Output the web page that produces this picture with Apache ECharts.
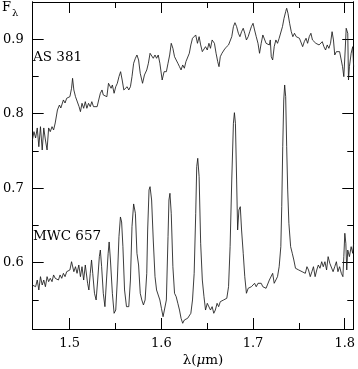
<!DOCTYPE html>
<html>
<head>
<meta charset="utf-8">
<script src="https://cdn.jsdelivr.net/npm/echarts@6/dist/echarts.min.js"></script>
<style>
  html, body { margin: 0; padding: 0; background: #fff; }
  #chart { width: 358px; height: 369px; }
</style>
</head>
<body>
<div id="chart"></div>
<script>
// spectra: wavelength in micron, flux F_lambda
let asWave = [1.4594, 1.4611, 1.4629, 1.4647, 1.4664, 1.4682, 1.4701, 1.4718, 1.4736, 1.4754, 1.4771, 1.4789, 1.4808, 1.4825, 1.4843, 1.4867, 1.4889, 1.4904, 1.4932, 1.4950, 1.4968, 1.4985, 1.5003, 1.5021, 1.5032, 1.5046, 1.5064, 1.5081, 1.5103, 1.5118, 1.5135, 1.5153, 1.5171, 1.5188, 1.5206, 1.5225, 1.5242, 1.5260, 1.5278, 1.5300, 1.5317, 1.5335, 1.5353, 1.5367, 1.5388, 1.5406, 1.5424, 1.5439, 1.5452, 1.5466, 1.5485, 1.5503, 1.5520, 1.5538, 1.5556, 1.5573, 1.5591, 1.5610, 1.5627, 1.5645, 1.5663, 1.5680, 1.5698, 1.5717, 1.5734, 1.5752, 1.5770, 1.5795, 1.5816, 1.5841, 1.5859, 1.5877, 1.5894, 1.5912, 1.5931, 1.5948, 1.5966, 1.5984, 1.6009, 1.6030, 1.6055, 1.6073, 1.6091, 1.6108, 1.6126, 1.6144, 1.6162, 1.6180, 1.6198, 1.6215, 1.6233, 1.6251, 1.6268, 1.6287, 1.6305, 1.6322, 1.6340, 1.6358, 1.6375, 1.6394, 1.6412, 1.6429, 1.6447, 1.6465, 1.6482, 1.6501, 1.6519, 1.6536, 1.6554, 1.6565, 1.6579, 1.6597, 1.6615, 1.6629, 1.6643, 1.6661, 1.6679, 1.6696, 1.6714, 1.6733, 1.6750, 1.6768, 1.6786, 1.6803, 1.6821, 1.6840, 1.6857, 1.6875, 1.6893, 1.6910, 1.6928, 1.6947, 1.6964, 1.6982, 1.7000, 1.7017, 1.7035, 1.7054, 1.7071, 1.7089, 1.7107, 1.7124, 1.7142, 1.7160, 1.7178, 1.7188, 1.7199, 1.7214, 1.7231, 1.7249, 1.7267, 1.7285, 1.7303, 1.7321, 1.7338, 1.7356, 1.7367, 1.7381, 1.7399, 1.7417, 1.7434, 1.7452, 1.7471, 1.7488, 1.7506, 1.7524, 1.7541, 1.7559, 1.7578, 1.7595, 1.7613, 1.7631, 1.7648, 1.7666, 1.7685, 1.7702, 1.7720, 1.7738, 1.7755, 1.7773, 1.7791, 1.7809, 1.7827, 1.7845, 1.7862, 1.7877, 1.7891, 1.7909, 1.7926, 1.7944, 1.7963, 1.7976, 1.7990, 1.8005, 1.8016, 1.8027, 1.8033, 1.8041, 1.8051, 1.8070, 1.8087, 1.8097];
let asFlux = [0.7647, 0.7759, 0.7674, 0.7809, 0.7557, 0.7826, 0.7513, 0.7809, 0.7647, 0.7513, 0.7809, 0.7759, 0.7826, 0.7782, 0.7876, 0.8050, 0.8117, 0.8077, 0.8185, 0.8144, 0.8208, 0.8185, 0.8229, 0.8342, 0.8476, 0.8319, 0.8229, 0.8229, 0.8095, 0.8028, 0.8140, 0.8073, 0.8162, 0.8073, 0.8140, 0.8095, 0.8162, 0.8095, 0.8117, 0.8095, 0.8185, 0.8275, 0.8319, 0.8252, 0.8275, 0.8229, 0.8409, 0.8431, 0.8342, 0.8386, 0.8275, 0.8363, 0.8409, 0.8498, 0.8565, 0.8453, 0.8319, 0.8296, 0.8363, 0.8319, 0.8363, 0.8498, 0.8678, 0.8745, 0.8789, 0.8722, 0.8543, 0.8409, 0.8521, 0.8588, 0.8678, 0.8812, 0.8834, 0.8745, 0.8789, 0.8745, 0.8789, 0.8678, 0.8453, 0.8565, 0.8565, 0.8678, 0.8789, 0.8946, 0.8879, 0.8766, 0.8722, 0.8678, 0.8632, 0.8588, 0.8655, 0.8611, 0.8699, 0.8722, 0.8812, 0.8924, 0.9014, 0.9035, 0.9058, 0.8946, 0.9035, 0.8924, 0.8834, 0.8812, 0.8901, 0.8856, 0.8946, 0.8879, 0.8991, 0.9014, 0.8946, 0.8812, 0.8699, 0.8632, 0.8766, 0.8812, 0.8789, 0.8879, 0.8856, 0.8924, 0.8901, 0.9035, 0.9170, 0.9223, 0.9170, 0.9081, 0.9035, 0.9102, 0.9148, 0.9081, 0.8991, 0.9035, 0.9102, 0.9170, 0.9215, 0.9125, 0.9035, 0.8946, 0.8812, 0.8946, 0.9058, 0.9081, 0.8946, 0.8968, 0.8924, 0.8991, 0.8766, 0.8722, 0.8901, 0.8991, 0.8946, 0.9014, 0.8991, 0.9170, 0.9282, 0.9371, 0.9417, 0.9349, 0.9215, 0.9102, 0.9035, 0.9081, 0.9035, 0.9058, 0.9014, 0.8991, 0.8901, 0.8968, 0.9014, 0.8946, 0.9035, 0.9081, 0.8991, 0.9014, 0.8946, 0.8968, 0.8924, 0.8946, 0.8968, 0.8901, 0.8856, 0.8924, 0.8879, 0.8946, 0.9102, 0.8991, 0.8789, 0.8834, 0.8812, 0.8834, 0.8812, 0.8632, 0.8498, 0.8856, 0.9148, 0.9170, 0.9081, 0.8453, 0.8632, 0.8812, 0.8901, 0.8632];

let mwcWave = [1.4594, 1.4611, 1.4629, 1.4647, 1.4664, 1.4682, 1.4701, 1.4718, 1.4736, 1.4754, 1.4771, 1.4789, 1.4808, 1.4825, 1.4843, 1.4861, 1.4878, 1.4896, 1.4914, 1.4932, 1.4950, 1.4968, 1.4985, 1.5003, 1.5021, 1.5032, 1.5046, 1.5064, 1.5081, 1.5100, 1.5118, 1.5135, 1.5153, 1.5171, 1.5182, 1.5196, 1.5210, 1.5225, 1.5239, 1.5252, 1.5271, 1.5289, 1.5306, 1.5324, 1.5335, 1.5349, 1.5367, 1.5385, 1.5402, 1.5420, 1.5431, 1.5445, 1.5466, 1.5485, 1.5503, 1.5520, 1.5538, 1.5554, 1.5567, 1.5581, 1.5599, 1.5620, 1.5645, 1.5663, 1.5680, 1.5698, 1.5717, 1.5734, 1.5752, 1.5770, 1.5787, 1.5805, 1.5823, 1.5841, 1.5851, 1.5866, 1.5877, 1.5894, 1.5912, 1.5931, 1.5948, 1.5966, 1.5984, 1.6001, 1.6019, 1.6037, 1.6055, 1.6073, 1.6083, 1.6094, 1.6108, 1.6126, 1.6144, 1.6162, 1.6180, 1.6198, 1.6215, 1.6233, 1.6251, 1.6268, 1.6287, 1.6305, 1.6322, 1.6340, 1.6358, 1.6375, 1.6386, 1.6397, 1.6412, 1.6429, 1.6447, 1.6465, 1.6482, 1.6501, 1.6519, 1.6536, 1.6554, 1.6572, 1.6589, 1.6608, 1.6625, 1.6643, 1.6661, 1.6679, 1.6696, 1.6714, 1.6733, 1.6750, 1.6768, 1.6786, 1.6797, 1.6808, 1.6821, 1.6832, 1.6846, 1.6861, 1.6875, 1.6893, 1.6910, 1.6928, 1.6947, 1.6964, 1.6982, 1.7000, 1.7017, 1.7035, 1.7054, 1.7071, 1.7089, 1.7107, 1.7124, 1.7142, 1.7160, 1.7178, 1.7196, 1.7214, 1.7231, 1.7249, 1.7267, 1.7285, 1.7303, 1.7313, 1.7324, 1.7335, 1.7345, 1.7356, 1.7367, 1.7378, 1.7391, 1.7410, 1.7428, 1.7445, 1.7463, 1.7481, 1.7498, 1.7517, 1.7535, 1.7552, 1.7570, 1.7588, 1.7605, 1.7624, 1.7642, 1.7659, 1.7677, 1.7695, 1.7712, 1.7730, 1.7749, 1.7766, 1.7784, 1.7802, 1.7819, 1.7837, 1.7856, 1.7873, 1.7891, 1.7909, 1.7926, 1.7944, 1.7963, 1.7980, 1.7990, 1.8001, 1.8012, 1.8022, 1.8033, 1.8051, 1.8070, 1.8087, 1.8097];
let mwcFlux = [0.5699, 0.5722, 0.5676, 0.5766, 0.5632, 0.5811, 0.5699, 0.5766, 0.5676, 0.5811, 0.5744, 0.5789, 0.5744, 0.5834, 0.5789, 0.5811, 0.5766, 0.5834, 0.5789, 0.5856, 0.5811, 0.5878, 0.5856, 0.5901, 0.6012, 0.6035, 0.5878, 0.5945, 0.5856, 0.5968, 0.5811, 0.5945, 0.5766, 0.5968, 0.5991, 0.5722, 0.5632, 0.5856, 0.6035, 0.5856, 0.5588, 0.5498, 0.5766, 0.6080, 0.6169, 0.5945, 0.5588, 0.5408, 0.5766, 0.6125, 0.6277, 0.6035, 0.5588, 0.5319, 0.5363, 0.5766, 0.6348, 0.6613, 0.6546, 0.6214, 0.5632, 0.5408, 0.5408, 0.5766, 0.6483, 0.6788, 0.6663, 0.6125, 0.5968, 0.5588, 0.5498, 0.5431, 0.5498, 0.5856, 0.6438, 0.6976, 0.7020, 0.6841, 0.6304, 0.5811, 0.5632, 0.5565, 0.5498, 0.5386, 0.5273, 0.5273, 0.5498, 0.6348, 0.6841, 0.6931, 0.6663, 0.5945, 0.5588, 0.5542, 0.5453, 0.5363, 0.5252, 0.5185, 0.5229, 0.5206, 0.5252, 0.5273, 0.5319, 0.5498, 0.5856, 0.6663, 0.7289, 0.7401, 0.7154, 0.6260, 0.5766, 0.5542, 0.5363, 0.5453, 0.5431, 0.5363, 0.5408, 0.5319, 0.5363, 0.5453, 0.5408, 0.5475, 0.5453, 0.5498, 0.5498, 0.5521, 0.5677, 0.6214, 0.7110, 0.7872, 0.8014, 0.7872, 0.7110, 0.6438, 0.6707, 0.6751, 0.6438, 0.6125, 0.5811, 0.5588, 0.5655, 0.5632, 0.5676, 0.5655, 0.5722, 0.5676, 0.5722, 0.5699, 0.5722, 0.5676, 0.5699, 0.5655, 0.5632, 0.5766, 0.5789, 0.5856, 0.5722, 0.5744, 0.5811, 0.5945, 0.6214, 0.6751, 0.7557, 0.8185, 0.8386, 0.8229, 0.7557, 0.6976, 0.6528, 0.6214, 0.6125, 0.6035, 0.5924, 0.5924, 0.5901, 0.5924, 0.5878, 0.5901, 0.5856, 0.5945, 0.5901, 0.5811, 0.5878, 0.5945, 0.5811, 0.5901, 0.5968, 0.5924, 0.6012, 0.5945, 0.6012, 0.5901, 0.6080, 0.5991, 0.6012, 0.5878, 0.5945, 0.6012, 0.5878, 0.5945, 0.5856, 0.5811, 0.6080, 0.6394, 0.6260, 0.5901, 0.6169, 0.6080, 0.6214, 0.6125, 0.6260];

let xMajor = [1.5, 1.6, 1.7, 1.8];
let xMinor = [1.55, 1.65, 1.75];
let yMajor = [0.6, 0.7, 0.8, 0.9];
let yMinor = [0.55, 0.65, 0.75, 0.85];

let xRange = [1.4597, 1.8093];
let yRange = [0.5108, 0.9501];

let font = 'DejaVu Serif';

function zip(xs, ys) {
  return xs.map((x, i) => [x, ys[i]]);
}

// one axis = one set of inward ticks; major and minor sets are stacked on the same side
function makeAxis(dim, pos, ticks, len, withLabels) {
  let range = dim === 'x' ? xRange : yRange;
  return {
    type: 'value',
    position: pos,
    min: range[0],
    max: range[1],
    axisLine: { show: true, onZero: false, lineStyle: { color: '#000', width: 1 } },
    axisTick: {
      show: true,
      inside: true,
      length: len,
      customValues: ticks,
      lineStyle: { color: '#000', width: 1 },
    },
    axisLabel: {
      show: withLabels,
      customValues: ticks,
      margin: dim === 'x' ? 8 : 9,
      fontFamily: font,
      fontSize: 13,
      color: '#000',
      formatter: (v) => v.toFixed(1),
    },
    splitLine: { show: false },
  };
}

let chart = echarts.init(document.getElementById('chart'), null, { renderer: 'canvas' });

let options = {
  backgroundColor: '#ffffff',
  animation: false,
  grid: { left: 30, right: 1, top: 2, bottom: 40 },
  xAxis: [
    makeAxis('x', 'bottom', xMajor, 11, true),
    makeAxis('x', 'bottom', xMinor, 6, false),
    makeAxis('x', 'top', xMajor, 11, false),
    makeAxis('x', 'top', xMinor, 6, false),
  ],
  yAxis: [
    makeAxis('y', 'left', yMajor, 11, true),
    makeAxis('y', 'left', yMinor, 6, false),
    makeAxis('y', 'right', yMajor, 11, false),
    makeAxis('y', 'right', yMinor, 6, false),
  ],
  series: [
    {
      name: 'AS 381',
      type: 'line',
      xAxisIndex: 0,
      yAxisIndex: 0,
      data: zip(asWave, asFlux),
      showSymbol: false,
      symbol: 'none',
      clip: true,
      lineStyle: { color: '#1a1a1a', width: 0.85 },
    },
    {
      name: 'MWC 657',
      type: 'line',
      xAxisIndex: 0,
      yAxisIndex: 0,
      data: zip(mwcWave, mwcFlux),
      showSymbol: false,
      symbol: 'none',
      clip: true,
      lineStyle: { color: '#1a1a1a', width: 0.85 },
    },
  ],
  graphic: [
    { type: 'text', x: 2, y: 1, style: { text: 'F', font: '13px "DejaVu Serif"', fill: '#000' } },
    { type: 'text', x: 12, y: 8, style: { text: 'λ', font: '10px "DejaVu Serif"', fill: '#000' } },
    { type: 'text', x: 33, y: 57, style: { text: 'AS 381', font: '13.5px "DejaVu Serif"', fill: '#000', verticalAlign: 'middle' } },
    { type: 'text', x: 33, y: 236, style: { text: 'MWC 657', font: '13.5px "DejaVu Serif"', fill: '#000', verticalAlign: 'middle' } },
    {
      type: 'text',
      x: 203,
      y: 360,
      style: {
        text: '{r|λ(}{i|μ}{r|m)}',
        align: 'center',
        verticalAlign: 'middle',
        rich: {
          r: { fontFamily: font, fontSize: 13.5, fill: '#000' },
          i: { fontFamily: font, fontSize: 13.5, fontStyle: 'italic', fill: '#000' },
        },
      },
    },
  ],
};

chart.setOption(options);
</script>
</body>
</html>
